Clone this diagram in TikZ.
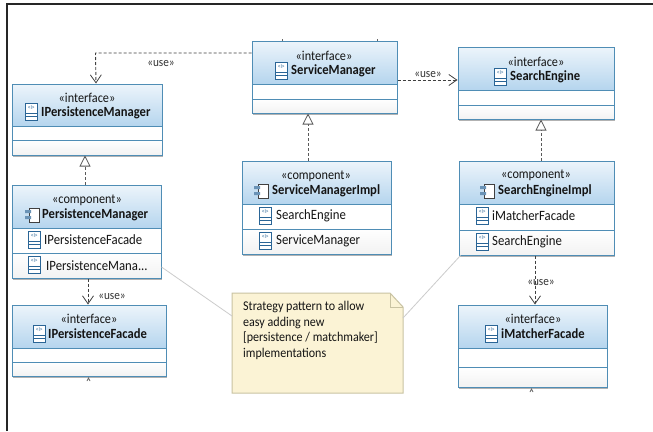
\documentclass[tikz,border=0pt]{standalone}
\usepackage{fontspec}
\setmainfont[FakeStretch=0.9]{Carlito}
\usetikzlibrary{arrows.meta,shadows,shapes.misc}
\definecolor{umlline}{HTML}{4F8DB5}
\definecolor{umlhead}{HTML}{B5D5EE}
\definecolor{iconblue}{HTML}{2A6596}
\definecolor{notefill}{HTML}{FBF3D5}
\definecolor{noteline}{HTML}{C9C3A2}
\definecolor{txt}{HTML}{141414}
\tikzset{
  umlbox/.style={draw=umlline,line width=1pt,fill=white,inner sep=0pt,
    drop shadow={shadow xshift=1pt,shadow yshift=-1.5pt,fill=black,opacity=.3}},
  headfill/.style={top color=umlhead!25,bottom color=umlhead,draw=none},
  lowfill/.style={top color=white,bottom color=black!5,draw=none},
  compline/.style={draw=umlline,line width=1pt},
  stereo/.style={font=\fontsize{13.6}{14}\selectfont,text=txt,inner sep=0pt},
  titletext/.style={font=\fontsize{14}{15}\selectfont\bfseries,text=txt,inner sep=0pt,anchor=west},
  rowtext/.style={font=\fontsize{14.2}{15}\selectfont,text=txt,inner sep=0pt,anchor=west},
  uselabel/.style={font=\fontsize{12.5}{13}\selectfont,text=black!80,inner sep=0pt},
  dep/.style={draw=black!75,line width=.9pt,densely dashed,-{Straight Barb[length=8pt,width=11pt,line width=.8pt]}},
  real/.style={draw=black!65,line width=1pt,densely dashed,-{Triangle[open,length=11pt,width=11pt,fill=white,line width=.8pt]}},
  noteline/.style={draw=black!20,line width=.8pt},
  tick/.style={draw=black!60,line width=.7pt},
  iconbox/.style={draw=iconblue,line width=.8pt,fill=white},
  tinyI/.style={font=\fontsize{6}{6}\selectfont,text=iconblue,inner sep=0pt}
}
% \ifaceicon{x left}{y top}
\newcommand{\ifaceicon}[2]{%
  \draw[iconbox] (#1,#2) rectangle ++(12.5,17);
  \draw[iconbox] (#1,#2+10) -- ++(12.5,0) (#1,#2+13.5) -- ++(12.5,0);
  \node[tinyI] at (#1+6.25,#2+5) {<I>};}
% \compicon{x left}{y centre}
\newcommand{\compicon}[2]{%
  \draw[iconbox,draw=black!75] (#1+4,#2-7) rectangle ++(10,14);
  \fill[iconblue!70] (#1,#2-5) rectangle ++(6,3) (#1,#2+1) rectangle ++(6,3);}
% \umlnode{name}{x1}{y1}{x2}{y2}{header bottom}{divider}
\newcommand{\umlnode}[7]{%
  \node[umlbox,minimum width=#4pt-#2pt,minimum height=#5pt-#3pt] (#1) at ({(#2+#4)/2},{(#3+#5)/2}) {};
  \fill[headfill] (#2,#3) rectangle (#4,#6);
  \fill[white] (#2,#6) rectangle (#4,#7);
  \fill[lowfill] (#2,#7) rectangle (#4,#5);
  \draw[umlline,line width=1pt] (#2,#3) rectangle (#4,#5);
  \draw[compline] (#2,#6) -- (#4,#6) (#2,#7) -- (#4,#7);}
\begin{document}
\begin{tikzpicture}[x=1pt,y=-1pt]
\useasboundingbox (0,0) rectangle (653,431);
\fill[white] (0,0) rectangle (653,431);
\draw[black!85,line width=1.4pt] (7,431) -- (7,4) -- (653,4);

% boxes
\umlnode{ipm}{12}{84}{162}{155}{126}{140}
\umlnode{pm}{12}{185}{161}{278}{228}{253}
\umlnode{ipf}{12}{305}{166}{376}{348}{362}
\umlnode{sm}{252}{41}{397}{113}{84}{99}
\umlnode{smi}{242}{161}{391}{254}{204}{229}
\umlnode{se}{458}{47}{614}{119}{90}{105}
\umlnode{sei}{459}{161}{614}{255}{204}{230}
\umlnode{imf}{458}{305}{607}{387}{348}{367}

% headers
\node[stereo] (ipms) at (87,98) {«interface»};
\ifaceicon{25}{103}
\node[titletext] (ipmt) at (41,113) {IPersistenceManager};

\node[stereo] (pms) at (87,200) {«component»};
\compicon{25}{215}
\node[titletext] (pmt) at (42,215) {PersistenceManager};
\ifaceicon{28}{231}
\node[rowtext] (pmr1) at (44,240) {IPersistenceFacade};
\ifaceicon{28}{256}
\node[rowtext] (pmr2) at (46,266) {IPersistenceMana...};

\node[stereo] (ipfs) at (89,319) {«interface»};
\ifaceicon{33}{325}
\node[titletext] (ipft) at (48,334) {IPersistenceFacade};

\node[stereo] (sms) at (324,56) {«interface»};
\ifaceicon{275}{62}
\node[titletext] (smt) at (291,71) {ServiceManager};

\node[stereo] (smis) at (316,176) {«component»};
\compicon{254}{191}
\node[titletext] (smit) at (272,191) {ServiceManagerImpl};
\ifaceicon{259}{207}
\node[rowtext] (smir1) at (276,216) {SearchEngine};
\ifaceicon{259}{232}
\node[rowtext] (smir2) at (276,241) {ServiceManager};

\node[stereo] (ses) at (536,62) {«interface»};
\ifaceicon{494}{68}
\node[titletext] (set) at (510,77) {SearchEngine};

\node[stereo] (seis) at (536,175) {«component»};
\compicon{480}{191}
\node[titletext] (seit) at (498,191) {SearchEngineImpl};
\ifaceicon{476}{207}
\node[rowtext] (seir1) at (492,216) {iMatcherFacade};
\ifaceicon{476}{233}
\node[rowtext] (seir2) at (492,242) {SearchEngine};

\node[stereo] (imfs) at (533,319) {«interface»};
\ifaceicon{485}{325}
\node[titletext] (imft) at (501,334) {iMatcherFacade};

% note
\path[fill=notefill,draw=noteline,line width=1pt] (232,293) -- (390,293) -- (403,307) -- (403,393) -- (232,393) -- cycle;
\draw[draw=noteline,line width=.8pt] (390,293) -- (390,307) -- (403,307);
\coordinate (notewest) at (232,316);
\coordinate (noteeast) at (403,318);
\node[font=\fontsize{13.4}{15.6}\selectfont,text=txt,inner sep=0pt,anchor=north west,align=left] (notetext) at (243,301)
  {Strategy pattern to allow\\easy adding new\\{[persistence / matchmaker]}\\implementations};

% connectors
\draw[dep] ([yshift=24pt]sm.west) -- ++(-156,0) -- ([xshift=9pt]ipm.north);
\draw[dep] ([yshift=-3pt]sm.east) -- ([yshift=3pt]se.west);
\draw[real] ([xshift=-1.5pt]pm.north) -- ([xshift=-2pt]ipm.south);
\draw[real] ([xshift=-8.5pt]smi.north) -- ([xshift=-16.5pt]sm.south);
\draw[real] ([xshift=4.5pt]sei.north) -- ([xshift=5pt]se.south);
\draw[dep] ([xshift=1.5pt]pm.south) -- ([xshift=-1pt]ipf.north);
\draw[dep] ([xshift=-1.5pt]sei.south) -- ([xshift=2.5pt]imf.north);
\draw[noteline] ([yshift=-35.5pt]pm.east) -- (notewest);
\draw[noteline] ([xshift=2pt]sei.south west) -- (noteeast);

% labels
\node[uselabel] (u1) at (161,64) {«use»};
\node[uselabel] (u2) at (428,75) {«use»};
\node[uselabel] (u3) at (112,297) {«use»};
\node[uselabel] (u4) at (541,283) {«use»};

% small ticks
\draw[tick] (282,41) -- (282,39);
\draw[tick] (377,41) -- (377,39);
\draw[tick] (87,381) -- (88.5,378) -- (90,381);
\draw[tick] (530,392) -- (531.5,389) -- (533,392);
\end{tikzpicture}
\end{document}
